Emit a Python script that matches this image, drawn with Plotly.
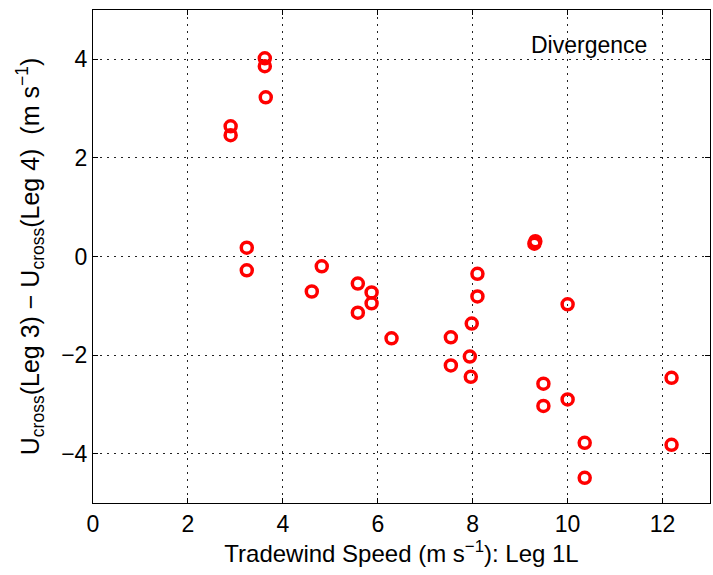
import plotly.graph_objects as go

# Tradewind speed (m/s), Leg 1L
wind_speed = [2.90, 2.90, 3.62, 3.62, 3.64, 3.24, 3.24, 4.82, 4.61,
              5.58, 5.58, 5.87, 5.87, 6.29, 7.54, 7.54, 7.98, 7.94,
              7.96, 8.10, 8.10, 9.30, 9.32, 10.00, 9.49, 9.49, 10.00,
              10.36, 10.36, 12.19, 12.19]
# Ucross(Leg3) - Ucross(Leg4) (m/s)
du_cross = [2.64, 2.46, 4.02, 3.86, 3.23, 0.18, -0.28, -0.20, -0.71,
            -0.55, -1.14, -0.73, -0.95, -1.66, -1.64, -2.21, -1.36, -2.03,
            -2.44, -0.35, -0.81, 0.26, 0.31, -0.97, -2.58, -3.03, -2.90,
            -3.78, -4.49, -2.46, -3.82]

x_ticks = [0, 2, 4, 6, 8, 10, 12]
y_ticks = [-4, -2, 0, 2, 4]

FONT = "Liberation Sans, Arial, Helvetica, sans-serif"

fig = go.Figure()
fig.add_trace(go.Scatter(
    x=wind_speed, y=du_cross, mode="markers",
    marker=dict(symbol="circle-open", size=11, color="red",
                line=dict(color="red", width=3.5)),
    showlegend=False,
))

axis_common = dict(
    showline=True, linecolor="black", linewidth=1, mirror="ticks",
    ticks="inside", ticklen=5, tickcolor="black",
    showgrid=True, gridcolor="#222222", gridwidth=1, griddash="2px,5px",
    zeroline=False,
    tickfont=dict(family=FONT, size=23, color="black"),
)

fig.update_xaxes(range=[0, 13], tickvals=x_ticks,
                 title=dict(text="Tradewind Speed (m s<sup>−1</sup>): Leg 1L",
                            font=dict(family=FONT, size=24, color="black"),
                            standoff=2),
                 **axis_common)
fig.update_yaxes(range=[-5, 5], tickvals=y_ticks,
                 title=dict(text="U<sub>cross</sub>(Leg 3) − U<sub>cross</sub>(Leg 4)  (m s<sup>−1</sup>)",
                            font=dict(family=FONT, size=25, color="black"),
                            standoff=14),
                 **axis_common)

fig.add_annotation(x=10.45, y=4.3, text="Divergence", showarrow=False,
                   font=dict(family=FONT, size=23, color="black"),
                   xanchor="center", yanchor="middle")

fig.update_layout(
    width=713, height=575,
    margin=dict(l=93, r=3, t=10, b=72),
    plot_bgcolor="white", paper_bgcolor="white",
)

fig.write_html("out.html")
